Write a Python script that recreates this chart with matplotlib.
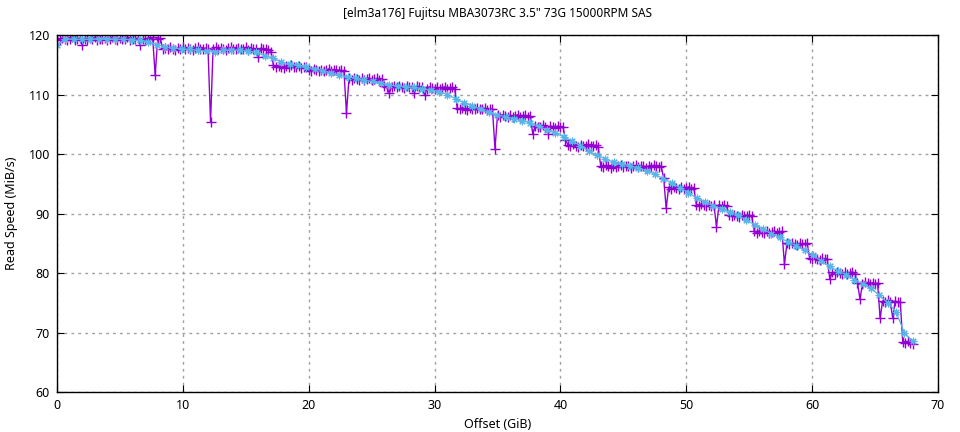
import numpy as np
import matplotlib
matplotlib.use('Agg')
import matplotlib.pyplot as plt

plt.rcParams['font.family'] = ['Noto Sans', 'DejaVu Sans']

# -------------------------------------------------------------------------------------------------------------
# Data: raw read speed (MiB/s), one sample every 0.2 GiB, written zone by zone
# -------------------------------------------------------------------------------------------------------------
z1 = [119.4, 119.2, 119.5, 119.3, 119.1, 119.4, 119.6, 119.2, 119.3, 119.5,
      118.3, 119.4, 119.2, 119.5, 119.3, 119.6, 119.2, 119.4, 119.3, 119.5,
      119.2, 119.4, 119.6, 119.3, 119.2, 119.5, 119.4, 119.3, 119.6, 119.2,
      119.4, 119.3, 119.5, 118.4, 119.4, 119.2, 119.5, 119.3, 119.6, 113.2,
      119.3, 119.5, 117.7]
z2 = [117.8, 117.6, 117.9, 117.7, 117.5, 117.8, 117.7, 117.9, 117.6, 117.8,
      117.7, 117.5, 117.8, 117.9, 117.6, 117.7, 117.8, 117.6, 105.4, 117.7,
      117.9, 117.6, 117.8, 117.7, 117.5, 117.8, 117.9, 117.6, 117.7, 117.8,
      117.6, 117.7, 117.9, 117.5, 117.8, 117.6, 117.7, 116.3, 117.8, 117.6,
      117.7, 117.5, 117.2]
z3 = [114.9, 114.6, 114.8, 114.7, 114.5, 114.8, 114.6, 114.9, 114.7, 114.6, 114.8, 114.5, 114.7, 114.6]
z4 = [114.2, 114.0, 114.3, 114.1, 113.9, 114.2, 114.0, 114.1, 114.3, 113.9, 114.1, 114.2, 114.0, 114.1,
      113.9, 106.9]
z5 = [112.7, 112.5, 112.8, 112.6, 112.4, 112.7, 112.5, 112.6, 112.8, 112.5, 112.6, 112.7, 112.4, 112.6]
z6 = [111.4, 111.2, 110.2, 111.3, 111.5, 111.2, 111.4, 111.3, 111.1, 111.4, 111.2, 111.3, 110.3, 111.4,
      111.2]
z7 = [111.2, 109.9, 111.0, 111.3, 111.1, 110.9, 111.2, 111.0, 111.1, 111.3, 110.9, 111.1, 111.2, 111.0]
z8 = [107.7, 107.5, 107.8, 107.6, 107.4, 107.7, 107.5, 107.6, 107.8, 107.5, 107.6, 107.7, 107.4, 107.6,
      107.5, 100.9]
z9 = [106.5, 106.3, 106.6, 106.4, 106.2, 106.5, 106.3, 106.4, 106.6, 106.3, 106.4, 106.5, 106.2, 106.4]
z10 = [103.4, 104.7, 104.5, 104.6, 104.8, 104.5, 103.4, 104.7, 104.6, 104.4, 104.7, 104.5, 104.6, 102.4]
z11 = [101.5, 101.3, 101.6, 101.4, 101.2, 101.5, 101.3, 101.4, 101.6, 101.3, 101.4, 101.5, 101.2]
z12 = [98.0, 97.8, 98.1, 97.9, 97.7, 98.0, 97.8, 97.9, 98.1, 97.8,
       97.9, 98.0, 97.7, 97.9, 98.1, 97.8, 98.0, 97.9, 97.7, 98.0,
       97.8, 98.1, 97.9, 97.8, 98.0, 96.0]
z13 = [90.9, 94.4, 94.2, 94.5, 94.3, 94.1, 94.4, 94.2, 94.3, 94.5, 94.2, 94.3]
z14 = [91.5, 91.3, 91.6, 91.4, 91.2, 91.5, 91.3, 91.4, 87.8, 91.5, 91.3, 91.4, 91.2]
z15 = [89.7, 89.5, 89.8, 89.6, 89.4, 89.7, 89.5, 89.6, 89.8, 89.5]
z16 = [87.0, 86.8, 87.1, 86.9, 86.7, 87.0, 86.8, 86.9, 87.1, 86.8, 86.9, 87.0]
z17 = [81.5, 85.0, 84.8, 85.1, 84.9, 84.7, 85.0, 84.8, 84.9, 85.0]
z18 = [82.5, 82.3, 82.6, 82.4, 82.2, 82.5, 82.3, 82.4, 79.0]
z19 = [80.1, 79.9, 80.2, 80.0, 79.8, 80.1, 79.9, 80.0, 80.2, 79.9]
z20 = [78.4, 75.6, 78.2, 78.5, 78.3, 78.1, 78.4, 78.2, 78.3]
z21 = [72.4, 75.3, 75.1, 75.4, 75.2, 72.5, 75.3, 75.1, 75.2]
z22 = [68.4, 68.2, 68.5, 68.3, 68.1]

raw_speed = (z1 + z2 + z3 + z4 + z5 + z6 + z7 + z8 + z9 + z10 + z11 + z12 + z13 + z14 + z15
             + z16 + z17 + z18 + z19 + z20 + z21 + z22)
raw_step = 0.2  # GiB between raw samples

# smoothed read speed (MiB/s), one point every 0.66 GiB
smooth_speed = [118.3, 119.4, 119.3, 119.3, 119.3, 119.4, 119.4, 119.3, 119.3, 119.2,
                119.1, 118.8, 118.4, 118.0, 117.8, 117.7, 117.6, 117.4, 117.3, 117.2,
                117.5, 117.5, 117.5, 117.3, 117.1, 116.5, 116.1, 115.5, 115.1, 114.9,
                114.6, 114.3, 114.0, 113.6, 113.2, 113.0, 112.7, 112.4, 112.2, 111.9,
                111.6, 111.4, 111.3, 111.2, 110.9, 110.8, 110.5, 110.0, 109.3, 108.6,
                108.1, 107.5, 107.0, 106.5, 106.3, 105.9, 105.6, 105.2, 104.7, 104.0,
                103.5, 102.9, 102.2, 101.4, 100.5, 99.8, 99.2, 98.6, 98.3, 98.0,
                97.6, 97.2, 96.6, 95.8, 95.2, 94.3, 93.5, 92.6, 91.9, 91.3,
                90.8, 90.2, 89.7, 88.9, 88.1, 87.4, 86.6, 86.0, 85.2, 84.6,
                83.8, 83.0, 82.0, 81.1, 80.4, 79.7, 78.9, 78.2, 77.4, 76.3,
                75.0, 73.5, 70.0, 68.5]
smooth_step = 0.66

title = '[elm3a176] Fujitsu MBA3073RC 3.5" 73G 15000RPM SAS'

raw_x = np.arange(len(raw_speed)) * raw_step
smooth_x = np.arange(len(smooth_speed)) * smooth_step

# -------------------------------------------------------------------------------------------------------------
# Plot
# -------------------------------------------------------------------------------------------------------------
fig = plt.figure(figsize=(9.6, 4.32), dpi=100)
ax = fig.add_axes([57 / 960, 1 - 392 / 432, 881 / 960, 357 / 432])

ax.plot(raw_x, raw_speed, color='#9400d3', lw=1, marker='+', ms=6.5, mew=1)
ax.plot(smooth_x, smooth_speed, color='#56b4e9', lw=0.9, marker=(8, 2, 0), ms=5.5, mew=0.8)

ax.set_xlim(0, 70)
ax.set_ylim(60, 120)
ax.set_xticks(np.arange(0, 71, 10))
ax.set_yticks(np.arange(60, 121, 10))
ax.grid(True, color='#a0a0a0', linestyle=(0, (2, 3)), lw=1)
ax.set_axisbelow(True)
ax.tick_params(direction='in', top=True, right=True, length=5, labelsize=9, pad=5)
for s in ax.spines.values():
    s.set_linewidth(1)

ax.set_title(title, fontsize=8.5, pad=13)
ax.set_xlabel('Offset (GiB)', fontsize=9, labelpad=4)
ax.set_ylabel('Read Speed (MiB/s)', fontsize=9, labelpad=8)

fig.savefig('out.png', dpi=100)
